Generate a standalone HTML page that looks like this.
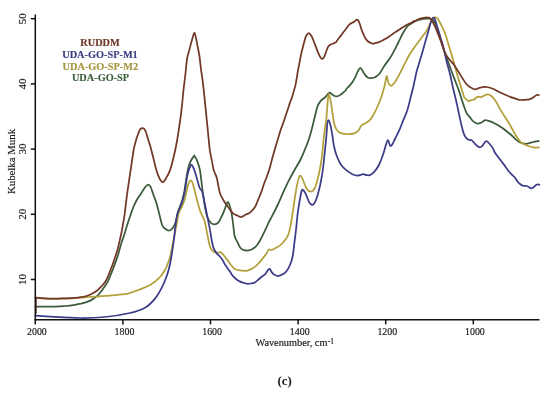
<!DOCTYPE html><html><head><meta charset="utf-8"><style>
html,body{margin:0;padding:0;background:#fff;}
body{width:550px;height:393px;overflow:hidden;position:relative;}
svg{position:absolute;left:0;top:0;transform:translateZ(0);}
text{font-family:"Liberation Serif",serif;}
</style></head><body>
<svg width="550" height="393" viewBox="0 0 550 393">
<path d="M35.5,306.5 C38.8,306.5 50.1,306.7 55.0,306.6 C59.9,306.5 61.7,306.3 65.0,306.0 C68.3,305.7 72.3,305.2 75.0,304.8 C77.7,304.4 79.2,304.1 81.1,303.7 C83.0,303.2 85.0,302.6 86.5,302.1 C88.0,301.6 89.0,301.2 90.3,300.6 C91.6,300.0 92.8,299.2 94.1,298.3 C95.4,297.4 96.6,296.6 97.9,295.3 C99.2,294.0 100.4,292.4 101.7,290.7 C103.0,289.0 104.3,287.1 105.5,285.3 C106.7,283.5 107.7,281.9 108.6,280.0 C109.5,278.1 110.2,276.1 111.0,274.0 C111.8,271.9 112.7,269.7 113.5,267.5 C114.3,265.3 115.2,263.3 116.0,261.0 C116.8,258.7 117.6,256.5 118.5,253.5 C119.4,250.5 120.4,246.2 121.4,243.0 C122.4,239.8 123.4,237.4 124.4,234.2 C125.4,231.0 126.5,227.2 127.5,224.0 C128.5,220.8 129.5,217.9 130.5,215.0 C131.5,212.1 132.5,209.0 133.6,206.5 C134.7,204.0 135.6,202.0 136.9,199.8 C138.2,197.6 139.8,195.5 141.2,193.3 C142.6,191.1 144.3,188.2 145.5,186.8 C146.7,185.4 147.4,184.6 148.2,184.6 C149.0,184.6 149.6,185.0 150.5,186.7 C151.4,188.4 152.4,191.9 153.5,195.0 C154.6,198.1 155.6,200.1 157.0,205.0 C158.4,209.9 160.7,220.6 162.0,224.5 C163.3,228.4 163.8,227.4 164.8,228.4 C165.9,229.4 167.1,230.4 168.3,230.5 C169.5,230.6 170.8,230.0 171.8,229.1 C172.9,228.2 173.8,226.5 174.6,224.9 C175.3,223.3 175.7,221.7 176.3,219.5 C176.9,217.3 177.4,214.2 178.0,212.0 C178.6,209.8 179.3,208.4 180.0,206.5 C180.7,204.6 181.5,202.9 182.2,200.5 C182.9,198.1 183.6,195.1 184.2,192.0 C184.8,188.9 185.3,185.2 185.8,182.0 C186.3,178.8 186.8,175.2 187.3,172.5 C187.8,169.8 188.4,167.5 189.0,165.5 C189.6,163.5 190.2,162.1 191.0,160.5 C191.8,158.9 193.4,156.8 194.0,156.0 C194.6,155.2 193.9,155.2 194.3,155.8 C194.7,156.4 195.9,158.0 196.6,159.5 C197.3,161.0 198.0,163.0 198.6,165.0 C199.2,167.0 199.8,169.0 200.2,171.5 C200.6,174.0 200.9,177.0 201.3,180.0 C201.7,183.0 201.8,185.3 202.4,189.6 C203.0,193.9 204.0,201.3 204.8,206.0 C205.7,210.7 206.5,214.7 207.5,217.5 C208.5,220.3 209.8,221.8 211.0,223.0 C212.2,224.2 213.4,224.5 214.6,224.4 C215.8,224.3 217.0,223.9 218.2,222.6 C219.4,221.3 220.7,218.5 221.7,216.4 C222.7,214.3 223.6,212.2 224.4,210.1 C225.2,208.0 226.1,205.2 226.7,203.9 C227.3,202.6 227.5,201.8 228.0,202.1 C228.5,202.4 229.1,203.9 229.7,205.7 C230.3,207.5 230.9,209.5 231.5,212.8 C232.1,216.1 232.8,221.4 233.3,225.3 C233.8,229.2 233.9,233.3 234.6,236.0 C235.2,238.7 236.2,239.7 237.2,241.7 C238.1,243.7 239.2,246.4 240.3,247.8 C241.4,249.2 242.7,249.7 243.9,250.1 C245.1,250.5 246.4,250.5 247.4,250.5 C248.4,250.5 249.2,250.3 250.1,250.0 C251.0,249.7 251.8,249.4 252.8,248.7 C253.8,248.0 255.1,247.3 256.3,246.0 C257.5,244.7 258.7,242.8 259.9,240.7 C261.1,238.6 262.4,235.7 263.5,233.6 C264.6,231.5 265.3,229.7 266.2,227.9 C267.1,226.1 267.7,224.5 268.6,222.6 C269.5,220.7 270.3,219.5 271.8,216.7 C273.3,213.8 275.5,209.5 277.4,205.5 C279.3,201.5 281.1,197.1 283.0,192.9 C284.9,188.7 287.1,183.9 289.0,180.2 C290.9,176.5 292.3,174.0 294.2,170.6 C296.1,167.2 298.8,162.9 300.3,160.0 C301.8,157.1 302.3,155.8 303.3,153.4 C304.3,151.0 305.5,148.1 306.4,145.8 C307.3,143.5 307.9,142.0 308.7,139.7 C309.5,137.4 310.2,134.9 311.0,132.1 C311.8,129.3 312.6,125.8 313.3,122.9 C314.0,120.0 314.8,117.0 315.4,114.5 C316.0,112.0 316.6,109.5 317.1,107.8 C317.6,106.0 317.9,105.2 318.6,104.0 C319.3,102.8 320.2,101.3 321.1,100.3 C322.0,99.3 323.2,98.9 324.2,98.0 C325.2,97.1 326.3,95.8 327.2,94.9 C328.1,94.0 328.7,92.7 329.5,92.6 C330.3,92.5 331.0,93.7 331.8,94.2 C332.6,94.7 333.2,95.3 334.1,95.7 C335.0,96.1 336.1,96.5 337.1,96.4 C338.1,96.3 339.2,95.6 340.2,95.0 C341.1,94.4 341.9,93.8 342.8,93.0 C343.7,92.2 344.9,91.2 345.5,90.5 C346.1,89.8 345.8,89.7 346.4,88.9 C347.0,88.1 348.4,87.0 349.4,85.9 C350.4,84.8 351.5,83.6 352.5,82.1 C353.5,80.6 354.6,78.5 355.5,76.7 C356.4,74.9 357.0,72.9 357.8,71.4 C358.6,70.0 359.3,68.1 360.1,68.0 C360.9,67.9 361.6,69.5 362.4,70.6 C363.2,71.7 363.8,73.2 364.7,74.4 C365.6,75.6 366.7,76.9 367.7,77.5 C368.7,78.1 369.8,78.2 370.8,78.2 C371.8,78.2 372.9,78.2 373.9,77.8 C374.9,77.4 375.9,76.8 376.9,76.0 C377.9,75.2 378.7,74.7 380.0,72.9 C381.3,71.1 383.1,67.7 384.6,65.4 C386.1,63.1 387.7,61.6 389.2,59.3 C390.7,57.0 392.2,54.4 393.7,51.6 C395.2,48.8 396.8,45.5 398.3,42.5 C399.8,39.5 401.5,35.8 402.9,33.3 C404.3,30.7 405.4,28.8 406.7,27.2 C408.0,25.6 409.2,24.9 410.5,24.0 C411.8,23.1 413.1,22.4 414.4,21.7 C415.7,21.0 416.8,20.2 418.2,19.8 C419.6,19.4 421.3,19.2 422.9,19.0 C424.4,18.8 426.0,18.7 427.5,18.7 C429.0,18.7 430.7,18.4 432.0,19.2 C433.3,20.0 434.4,21.4 435.5,23.7 C436.6,26.0 437.8,29.5 438.9,32.9 C440.0,36.3 441.1,40.5 442.3,44.3 C443.5,48.1 444.7,52.4 445.8,55.8 C446.9,59.2 448.1,61.9 449.2,64.9 C450.3,68.0 451.5,71.0 452.6,74.1 C453.8,77.1 455.0,80.2 456.1,83.2 C457.2,86.2 458.3,88.8 459.5,92.4 C460.7,96.0 462.2,101.2 463.4,104.6 C464.6,108.0 465.4,110.7 466.5,112.8 C467.6,114.9 468.8,115.9 470.0,117.4 C471.2,118.9 472.5,120.9 473.8,121.9 C475.1,122.9 476.3,123.5 477.6,123.6 C478.9,123.7 480.3,123.0 481.5,122.5 C482.7,122.0 483.6,120.6 484.6,120.3 C485.7,120.0 486.6,120.3 487.8,120.6 C489.0,120.9 490.3,121.4 491.6,121.9 C492.9,122.4 494.1,123.1 495.4,123.8 C496.7,124.5 498.0,125.1 499.3,125.9 C500.6,126.7 501.8,127.6 503.1,128.5 C504.4,129.4 505.6,130.5 506.9,131.5 C508.2,132.5 509.2,133.2 510.7,134.5 C512.2,135.8 514.3,138.1 515.7,139.3 C517.1,140.6 518.0,141.3 519.2,142.0 C520.4,142.7 521.6,143.1 522.8,143.4 C524.0,143.7 525.2,143.9 526.4,143.8 C527.6,143.7 528.7,143.2 529.9,142.9 C531.1,142.6 532.3,142.3 533.5,142.0 C534.7,141.7 536.2,141.2 537.1,141.1 C538.0,140.9 538.5,141.1 538.8,141.1" fill="none" stroke="#3b5c3a" stroke-width="1.75" stroke-linejoin="round" stroke-linecap="round"/>
<path d="M35.5,298.0 C37.1,298.1 41.8,298.5 45.0,298.6 C48.2,298.8 51.7,298.9 55.0,298.9 C58.3,298.9 61.7,298.7 65.0,298.6 C68.3,298.5 72.3,298.4 75.0,298.2 C77.7,298.0 79.3,297.8 81.1,297.6 C82.9,297.4 84.7,297.3 86.0,297.2 C87.3,297.1 87.7,297.1 89.0,297.0 C90.3,296.9 92.0,296.7 94.1,296.6 C96.2,296.5 99.2,296.4 101.7,296.2 C104.2,296.0 107.2,295.8 109.4,295.6 C111.6,295.4 112.9,295.4 115.0,295.2 C117.1,295.0 119.5,294.8 122.0,294.4 C124.5,294.0 125.3,294.6 130.0,293.0 C134.7,291.4 145.0,287.7 150.0,285.0 C155.0,282.3 157.5,279.5 160.0,277.0 C162.5,274.5 163.7,272.3 165.0,270.0 C166.3,267.7 167.1,265.5 168.0,263.0 C168.9,260.5 169.1,261.3 170.5,255.0 C171.9,248.7 175.1,232.0 176.5,225.0 C177.9,218.0 178.0,216.0 178.8,213.0 C179.7,210.0 180.7,209.3 181.6,207.2 C182.5,205.1 183.6,202.8 184.4,200.2 C185.2,197.6 185.9,194.1 186.5,191.5 C187.1,188.9 187.5,186.4 188.2,184.6 C188.8,182.8 189.7,180.8 190.4,180.5 C191.1,180.2 191.7,181.0 192.4,182.5 C193.1,184.0 193.7,187.0 194.4,189.6 C195.1,192.2 195.8,195.3 196.5,198.0 C197.2,200.7 197.9,203.2 198.5,205.5 C199.1,207.8 199.6,209.5 200.3,211.5 C201.1,213.5 202.2,215.6 203.0,217.3 C203.8,219.0 204.2,219.5 204.8,221.7 C205.4,223.9 206.0,227.6 206.6,230.6 C207.2,233.6 207.8,236.8 208.4,239.5 C209.0,242.2 209.4,244.8 210.1,246.7 C210.8,248.6 211.8,250.1 212.8,251.1 C213.9,252.1 215.2,252.7 216.4,252.9 C217.6,253.1 218.9,252.0 219.9,252.2 C220.9,252.3 221.7,253.0 222.6,253.8 C223.5,254.7 224.3,256.0 225.3,257.3 C226.3,258.6 227.9,260.6 228.8,261.8 C229.7,263.0 229.6,263.3 230.6,264.5 C231.6,265.7 233.1,268.2 235.0,269.2 C236.9,270.2 240.0,270.4 242.1,270.6 C244.2,270.8 245.6,271.0 247.4,270.6 C249.2,270.2 251.0,269.4 252.8,268.3 C254.6,267.2 256.5,265.5 258.1,263.9 C259.7,262.3 261.3,260.1 262.6,258.5 C263.9,256.9 265.1,255.5 266.1,254.0 C267.1,252.5 267.9,250.3 268.8,249.6 C269.7,248.9 270.3,250.3 271.5,250.0 C272.7,249.7 274.4,248.8 276.0,247.8 C277.6,246.9 279.7,245.8 281.3,244.3 C282.9,242.8 284.8,240.3 285.8,239.0 C286.8,237.7 286.9,237.6 287.4,236.5 C287.9,235.4 288.5,234.2 289.0,232.5 C289.5,230.8 289.9,229.4 290.5,226.2 C291.1,223.0 291.9,217.9 292.6,213.2 C293.3,208.5 294.1,202.8 294.8,198.1 C295.5,193.4 296.3,188.6 297.0,185.1 C297.7,181.6 298.5,178.6 299.1,177.0 C299.7,175.4 300.0,175.5 300.6,175.8 C301.2,176.1 301.6,176.8 302.6,179.0 C303.6,181.2 305.3,186.6 306.7,188.7 C308.1,190.8 309.6,191.7 311.0,191.5 C312.4,191.3 313.7,190.6 315.1,187.3 C316.5,184.1 318.1,177.3 319.3,172.0 C320.5,166.7 321.4,160.5 322.1,155.2 C322.8,149.9 323.0,144.5 323.5,140.0 C324.0,135.5 324.5,131.5 325.0,128.0 C325.5,124.5 325.8,124.0 326.3,119.2 C326.8,114.4 327.5,103.4 327.9,99.3 C328.3,95.2 328.4,93.7 328.9,94.4 C329.4,95.1 330.5,100.0 331.1,103.3 C331.7,106.6 332.1,110.7 332.6,114.0 C333.1,117.3 333.5,120.6 334.1,123.2 C334.7,125.8 335.5,127.9 336.4,129.4 C337.3,130.9 338.4,131.7 339.5,132.4 C340.6,133.1 341.6,133.3 343.0,133.6 C344.4,133.9 347.0,134.0 347.8,134.1 C348.6,134.2 346.7,134.2 347.8,134.1 C348.9,134.0 352.6,134.0 354.4,133.4 C356.2,132.8 357.3,131.8 358.5,130.4 C359.7,129.1 360.4,126.5 361.6,125.3 C362.8,124.1 364.2,124.0 365.6,123.2 C367.0,122.4 368.3,121.7 369.7,120.2 C371.1,118.7 372.6,116.1 373.8,114.1 C375.0,112.1 375.8,110.5 376.9,108.0 C378.0,105.5 379.4,102.6 380.7,99.0 C382.0,95.4 383.5,90.1 384.5,86.3 C385.5,82.5 386.0,76.8 386.6,76.2 C387.2,75.6 387.6,80.9 388.3,82.5 C389.0,84.1 389.8,85.8 390.9,85.8 C392.0,85.8 393.2,84.5 394.7,82.5 C396.2,80.5 398.1,76.8 399.8,73.6 C401.5,70.4 403.3,66.6 404.9,63.4 C406.5,60.2 407.9,57.3 409.6,54.5 C411.3,51.7 413.5,48.6 415.0,46.4 C416.5,44.2 417.5,43.0 418.8,41.3 C420.1,39.6 421.3,37.9 422.6,36.2 C423.9,34.5 425.4,32.8 426.5,31.1 C427.6,29.4 428.3,27.6 429.0,26.0 C429.7,24.4 430.3,22.8 430.9,21.5 C431.5,20.2 432.1,19.1 432.8,18.4 C433.6,17.7 434.5,17.0 435.4,17.1 C436.2,17.2 437.1,17.9 437.9,19.0 C438.7,20.1 439.5,21.9 440.4,23.5 C441.2,25.1 442.1,26.5 443.0,28.5 C443.9,30.5 444.9,32.9 445.8,35.5 C446.7,38.1 447.6,41.5 448.4,44.2 C449.2,46.9 449.9,49.3 450.7,51.8 C451.5,54.3 452.3,57.1 453.0,59.4 C453.7,61.7 454.1,63.2 454.7,65.5 C455.3,67.8 456.1,70.7 456.8,73.2 C457.5,75.8 458.3,78.3 459.1,80.8 C459.9,83.3 460.6,86.0 461.4,88.4 C462.2,90.9 463.2,94.0 463.7,95.5 C464.2,97.0 463.6,96.5 464.4,97.5 C465.2,98.5 467.6,100.7 468.5,101.2 C469.4,101.7 469.1,100.6 470.0,100.3 C470.9,100.0 472.5,100.2 473.8,99.6 C475.1,99.0 476.3,97.2 477.6,96.8 C478.9,96.4 480.3,97.2 481.5,97.0 C482.7,96.8 483.6,95.8 484.6,95.4 C485.7,95.0 486.7,94.3 487.8,94.4 C488.9,94.5 489.9,95.0 491.0,95.8 C492.1,96.6 493.2,97.8 494.2,99.0 C495.1,100.2 495.8,101.3 496.7,102.8 C497.6,104.3 498.2,106.0 499.3,107.9 C500.4,109.8 501.8,112.0 503.1,114.0 C504.4,116.0 505.6,117.8 506.9,119.8 C508.2,121.8 509.5,124.2 510.7,126.2 C511.9,128.2 512.9,130.4 513.9,132.1 C514.9,133.8 515.6,135.2 516.5,136.5 C517.4,137.8 518.2,139.0 519.2,140.2 C520.2,141.4 521.6,142.8 522.8,143.6 C524.0,144.4 525.2,144.7 526.4,145.2 C527.6,145.7 528.7,146.2 529.9,146.5 C531.1,146.8 532.5,147.1 533.5,147.3 C534.5,147.5 535.3,147.7 536.2,147.7 C537.1,147.7 538.4,147.4 538.8,147.3" fill="none" stroke="#b3a03a" stroke-width="1.75" stroke-linejoin="round" stroke-linecap="round"/>
<path d="M35.5,315.6 C37.9,315.8 42.6,316.2 50.0,316.6 C57.4,317.0 70.8,317.9 80.0,318.0 C89.2,318.1 96.7,317.8 105.0,317.0 C113.3,316.2 123.3,314.5 130.0,313.0 C136.7,311.5 140.8,310.2 145.0,307.8 C149.2,305.4 152.2,302.0 155.0,298.6 C157.8,295.2 160.2,290.6 162.0,287.2 C163.8,283.8 164.8,281.1 166.0,278.0 C167.2,274.9 168.2,271.7 169.0,268.5 C169.8,265.3 170.2,263.8 171.0,259.0 C171.8,254.2 173.2,245.3 173.9,240.0 C174.6,234.7 174.8,230.8 175.3,227.0 C175.8,223.2 176.2,219.8 176.7,217.2 C177.2,214.6 177.5,213.3 178.1,211.6 C178.7,209.9 179.5,208.7 180.2,207.0 C180.9,205.3 181.6,203.9 182.3,201.6 C183.0,199.3 183.8,196.2 184.4,193.4 C185.0,190.6 185.3,187.9 185.8,185.0 C186.3,182.1 186.6,178.7 187.2,176.0 C187.8,173.3 188.4,171.0 189.1,169.1 C189.8,167.2 190.5,164.9 191.2,164.6 C191.9,164.3 192.6,166.1 193.3,167.5 C194.0,168.9 194.6,170.9 195.3,173.0 C196.0,175.1 196.6,177.5 197.3,180.0 C198.0,182.5 198.8,186.0 199.7,188.0 C200.5,190.0 201.6,189.5 202.4,192.2 C203.2,194.8 204.1,200.5 204.8,203.9 C205.5,207.3 206.0,209.8 206.6,212.8 C207.2,215.8 207.8,218.7 208.4,221.7 C209.0,224.7 209.5,227.3 210.1,230.6 C210.7,233.9 211.3,238.3 211.9,241.3 C212.5,244.3 212.9,246.5 213.7,248.4 C214.4,250.3 215.4,251.6 216.4,252.9 C217.4,254.2 218.9,255.3 219.9,256.5 C220.9,257.7 221.7,258.6 222.6,260.0 C223.5,261.4 224.1,263.2 225.3,265.0 C226.5,266.8 228.3,269.1 229.6,271.0 C230.9,272.9 231.7,274.7 233.2,276.3 C234.7,277.9 236.7,279.7 238.5,280.8 C240.3,281.9 242.4,282.4 243.9,282.9 C245.4,283.4 246.2,283.7 247.4,283.8 C248.6,283.9 249.8,283.7 251.0,283.5 C252.2,283.3 253.4,283.2 254.6,282.6 C255.8,282.0 256.9,280.9 258.1,279.9 C259.3,278.9 260.5,277.6 261.7,276.7 C262.9,275.8 264.3,275.3 265.3,274.2 C266.3,273.1 267.2,271.0 267.9,270.1 C268.6,269.2 269.1,268.6 269.7,268.9 C270.3,269.2 270.8,270.9 271.5,271.9 C272.2,272.8 273.2,273.9 274.2,274.6 C275.2,275.3 276.5,275.9 277.7,276.0 C278.9,276.1 280.1,275.4 281.3,274.9 C282.5,274.4 283.7,273.9 284.9,272.8 C286.1,271.7 287.4,270.1 288.4,268.3 C289.4,266.5 290.4,264.3 291.1,262.1 C291.9,259.9 292.3,258.4 292.9,255.0 C293.5,251.7 294.0,246.2 294.5,242.0 C295.0,237.8 295.5,234.5 296.0,230.0 C296.5,225.5 296.9,220.0 297.5,215.0 C298.1,210.0 299.1,204.2 299.8,200.0 C300.6,195.8 301.1,191.3 302.0,190.1 C302.9,188.9 304.1,190.9 305.3,193.0 C306.6,195.1 308.1,200.8 309.5,202.7 C310.9,204.5 312.3,205.5 313.7,204.1 C315.1,202.7 316.5,199.2 317.9,194.3 C319.3,189.4 321.0,181.4 322.1,174.8 C323.2,168.2 323.8,161.3 324.5,155.0 C325.2,148.7 325.8,142.2 326.3,137.0 C326.8,131.8 326.9,126.8 327.3,124.0 C327.7,121.2 328.1,120.0 328.6,120.3 C329.2,120.6 330.0,123.3 330.6,125.8 C331.2,128.2 331.7,131.5 332.3,135.0 C332.9,138.5 333.3,143.1 334.1,146.7 C334.9,150.3 335.9,153.8 337.1,156.8 C338.3,159.9 339.7,162.8 341.2,165.0 C342.7,167.2 344.4,168.6 346.3,170.1 C348.2,171.6 350.5,173.3 352.4,174.2 C354.3,175.1 356.1,175.5 357.5,175.6 C358.9,175.7 359.5,175.0 360.5,174.8 C361.5,174.6 362.6,174.1 363.6,174.2 C364.6,174.3 365.5,175.1 366.7,175.2 C367.9,175.3 369.3,175.5 370.7,174.8 C372.1,174.1 373.4,172.7 374.8,171.1 C376.2,169.5 377.5,167.7 378.9,165.0 C380.3,162.3 381.8,158.2 383.0,154.8 C384.2,151.4 385.2,147.1 386.0,144.6 C386.8,142.1 387.3,139.9 388.0,140.1 C388.7,140.3 389.3,144.8 390.0,145.6 C390.7,146.3 391.2,145.8 392.1,144.6 C393.0,143.4 394.0,140.9 395.2,138.5 C396.4,136.1 397.8,133.5 399.2,130.4 C400.6,127.4 401.9,123.6 403.3,120.2 C404.7,116.8 406.2,113.7 407.4,110.0 C408.6,106.3 409.5,102.0 410.5,98.0 C411.5,94.0 412.5,90.3 413.5,86.0 C414.5,81.7 415.5,76.0 416.5,72.0 C417.5,68.0 418.5,65.4 419.5,62.0 C420.5,58.6 421.6,55.1 422.6,51.4 C423.7,47.7 424.8,43.4 425.8,40.0 C426.8,36.6 427.5,34.1 428.4,31.1 C429.2,28.1 430.1,24.4 430.9,22.2 C431.6,20.0 432.3,18.3 432.9,17.8 C433.5,17.3 434.1,17.9 434.7,19.0 C435.3,20.1 436.0,22.7 436.6,24.7 C437.2,26.7 437.9,29.0 438.5,31.1 C439.1,33.2 439.8,35.3 440.4,37.4 C441.0,39.5 441.7,41.4 442.4,43.8 C443.1,46.2 443.8,48.9 444.5,52.0 C445.2,55.1 446.0,58.8 446.9,62.5 C447.8,66.2 449.0,69.8 450.0,74.0 C451.0,78.2 452.1,84.0 453.0,88.0 C453.9,92.0 454.6,94.2 455.5,98.0 C456.4,101.8 457.3,106.2 458.3,110.7 C459.3,115.2 460.4,120.9 461.4,125.0 C462.4,129.1 463.4,132.8 464.4,135.2 C465.4,137.6 466.3,138.3 467.5,139.2 C468.7,140.0 470.4,139.6 471.6,140.3 C472.8,141.0 473.4,142.2 474.6,143.3 C475.8,144.4 477.5,146.5 478.7,147.0 C479.9,147.5 480.8,147.2 481.8,146.4 C482.8,145.6 484.0,143.2 484.8,142.3 C485.6,141.5 486.0,141.0 486.8,141.3 C487.6,141.6 488.9,143.1 489.9,144.3 C490.9,145.5 492.1,147.0 493.0,148.4 C493.9,149.8 493.9,150.9 495.0,152.7 C496.1,154.5 498.2,157.1 499.9,159.3 C501.5,161.5 503.2,163.7 504.9,165.9 C506.5,168.1 508.2,170.6 509.8,172.5 C511.4,174.4 513.5,176.1 514.8,177.5 C516.0,178.9 516.5,180.1 517.3,181.1 C518.1,182.1 518.7,182.9 519.6,183.7 C520.5,184.4 521.5,185.2 522.6,185.6 C523.8,186.0 525.5,185.8 526.5,186.0 C527.5,186.2 528.0,186.6 528.7,187.0 C529.5,187.4 530.2,188.2 531.0,188.3 C531.8,188.4 532.5,188.1 533.3,187.6 C534.1,187.1 535.0,185.9 535.6,185.4 C536.2,184.9 536.5,184.6 537.1,184.5 C537.7,184.4 539.0,184.7 539.4,184.7" fill="none" stroke="#3d3c88" stroke-width="1.75" stroke-linejoin="round" stroke-linecap="round"/>
<path d="M35.5,297.7 C37.1,297.8 41.8,298.1 45.0,298.3 C48.2,298.5 51.7,298.6 55.0,298.6 C58.3,298.6 61.7,298.4 65.0,298.3 C68.3,298.2 72.3,298.1 75.0,297.9 C77.7,297.7 79.2,297.5 81.1,297.2 C83.0,296.9 85.0,296.4 86.5,296.0 C88.0,295.6 89.0,295.1 90.3,294.5 C91.6,293.9 92.8,293.4 94.1,292.6 C95.4,291.8 96.6,291.0 97.9,289.9 C99.2,288.8 100.4,287.5 101.7,286.1 C103.0,284.7 104.5,283.1 105.5,281.5 C106.5,279.9 107.2,278.2 108.0,276.3 C108.8,274.4 109.7,272.1 110.5,270.0 C111.3,267.9 112.2,265.8 113.0,263.5 C113.8,261.2 114.7,258.3 115.5,256.0 C116.3,253.7 116.9,252.0 117.6,249.5 C118.3,247.0 118.9,243.8 119.6,241.0 C120.2,238.2 120.9,235.5 121.5,232.5 C122.1,229.5 122.7,226.0 123.2,223.0 C123.7,220.0 123.9,219.4 124.6,214.5 C125.3,209.6 126.2,200.5 127.2,193.3 C128.2,186.2 129.3,178.8 130.4,171.6 C131.5,164.4 132.9,154.3 133.6,150.0 C134.3,145.7 134.1,147.6 134.5,146.0 C134.9,144.4 135.5,141.9 136.0,140.2 C136.5,138.4 137.0,137.1 137.6,135.5 C138.2,133.9 138.8,131.9 139.3,130.8 C139.8,129.7 140.3,129.1 140.8,128.7 C141.3,128.3 141.9,128.2 142.4,128.2 C142.9,128.2 143.5,128.1 144.0,128.6 C144.5,129.1 145.1,130.0 145.6,131.2 C146.1,132.4 146.5,134.0 147.0,135.6 C147.5,137.2 147.9,138.8 148.5,140.6 C149.1,142.4 149.7,144.0 150.4,146.5 C151.1,149.0 151.8,152.0 152.8,155.8 C153.8,159.6 155.1,165.7 156.2,169.5 C157.3,173.3 158.5,176.5 159.6,178.6 C160.7,180.7 161.6,182.1 162.6,182.1 C163.6,182.1 164.6,180.5 165.8,178.6 C167.0,176.7 168.6,174.0 169.9,170.6 C171.2,167.2 172.2,162.8 173.4,158.0 C174.6,153.2 175.8,147.5 176.8,142.0 C177.8,136.5 178.7,130.3 179.5,125.0 C180.3,119.7 180.8,115.8 181.5,110.0 C182.2,104.2 182.9,95.8 183.5,90.0 C184.1,84.2 184.7,80.0 185.3,75.0 C185.9,70.0 186.4,63.7 186.9,60.0 C187.4,56.3 187.9,55.2 188.5,53.0 C189.1,50.8 189.5,48.9 190.2,46.5 C190.8,44.1 191.7,40.8 192.4,38.5 C193.1,36.2 193.7,33.4 194.2,33.0 C194.7,32.6 195.0,34.0 195.6,36.4 C196.2,38.8 197.2,43.9 197.8,47.3 C198.5,50.6 198.9,52.5 199.5,56.5 C200.1,60.5 200.6,66.8 201.2,71.0 C201.8,75.2 202.1,75.6 202.8,82.0 C203.6,88.4 204.8,100.6 205.7,109.3 C206.6,118.0 207.5,127.5 208.2,134.3 C208.9,141.1 209.2,145.7 209.8,150.0 C210.4,154.3 211.2,157.1 211.8,160.4 C212.5,163.7 212.9,167.1 213.7,170.0 C214.5,172.9 215.8,174.2 216.8,178.0 C217.8,181.8 218.8,189.3 219.9,193.0 C221.0,196.7 222.4,198.4 223.5,200.3 C224.6,202.2 225.3,203.2 226.2,204.5 C227.1,205.8 228.1,207.0 228.8,208.0 C229.5,209.0 229.8,209.6 230.6,210.5 C231.3,211.4 232.5,213.0 233.3,213.7 C234.1,214.4 234.8,214.5 235.5,214.8 C236.2,215.2 236.9,215.4 237.8,215.8 C238.8,216.2 239.9,217.2 241.2,217.0 C242.5,216.8 244.3,215.4 245.8,214.6 C247.3,213.8 248.8,213.6 250.3,212.3 C251.8,211.0 253.9,208.6 255.0,207.0 C256.1,205.4 256.3,204.2 257.0,202.5 C257.7,200.8 258.6,198.8 259.4,196.8 C260.2,194.8 261.0,192.8 261.8,190.6 C262.6,188.3 263.4,185.5 264.2,183.3 C265.0,181.1 265.8,179.5 266.6,177.2 C267.5,174.9 268.4,172.5 269.3,169.6 C270.2,166.7 271.0,163.1 271.9,159.8 C272.8,156.5 273.6,153.6 274.6,150.0 C275.7,146.4 277.2,141.5 278.2,138.1 C279.2,134.7 279.8,132.4 280.7,129.8 C281.6,127.3 282.4,125.2 283.3,122.8 C284.2,120.4 285.1,117.4 285.8,115.2 C286.6,113.0 287.1,111.5 287.8,109.5 C288.5,107.5 289.2,105.0 289.9,102.9 C290.6,100.8 291.5,99.0 292.2,96.8 C292.9,94.6 293.5,91.9 294.1,89.9 C294.7,87.9 295.2,86.4 295.6,84.6 C296.0,82.8 296.2,81.1 296.6,79.0 C297.0,76.9 297.2,74.8 297.7,72.0 C298.2,69.2 299.0,65.4 299.6,62.2 C300.2,59.0 300.8,55.5 301.4,53.0 C301.9,50.5 302.4,49.1 302.9,47.0 C303.4,44.9 304.0,42.4 304.6,40.4 C305.2,38.4 305.8,36.5 306.5,35.3 C307.2,34.1 308.1,33.1 308.8,33.1 C309.6,33.1 310.3,34.3 311.0,35.3 C311.7,36.3 312.2,37.4 312.9,39.1 C313.6,40.8 314.5,43.2 315.4,45.4 C316.2,47.6 317.1,50.4 318.0,52.4 C318.9,54.4 319.8,56.4 320.5,57.5 C321.2,58.6 321.8,59.0 322.4,58.8 C323.0,58.6 323.8,57.6 324.4,56.3 C325.0,55.0 325.7,52.8 326.3,51.2 C326.9,49.6 327.6,47.8 328.2,46.7 C328.8,45.6 329.2,45.3 330.1,44.8 C331.0,44.3 332.4,43.9 333.3,43.5 C334.2,43.1 335.0,43.0 335.8,42.3 C336.6,41.6 337.1,40.4 338.0,39.3 C338.9,38.1 340.1,36.7 341.1,35.4 C342.1,34.1 343.1,32.6 344.1,31.3 C345.1,30.0 346.3,28.5 347.2,27.3 C348.1,26.1 348.8,25.0 349.7,24.2 C350.6,23.4 351.4,23.2 352.3,22.7 C353.2,22.2 354.1,21.7 354.8,21.2 C355.6,20.7 356.2,19.8 356.8,19.7 C357.4,19.6 357.9,20.1 358.4,20.8 C358.9,21.6 359.4,22.8 359.9,24.2 C360.4,25.6 360.8,27.6 361.4,29.3 C362.0,31.0 362.8,32.9 363.5,34.4 C364.2,35.9 364.8,37.4 365.5,38.5 C366.2,39.6 366.7,40.3 367.5,41.0 C368.3,41.7 369.2,42.2 370.1,42.6 C371.0,43.0 371.8,43.5 372.6,43.6 C373.5,43.7 374.3,43.3 375.2,43.1 C376.1,42.9 377.3,42.7 378.2,42.4 C379.1,42.1 379.7,41.7 380.8,41.2 C381.9,40.7 383.2,40.1 384.6,39.3 C386.0,38.5 387.7,37.4 389.2,36.4 C390.7,35.4 392.2,34.3 393.7,33.3 C395.2,32.3 396.8,31.3 398.3,30.3 C399.8,29.3 401.4,28.2 402.9,27.2 C404.4,26.2 406.0,25.2 407.5,24.4 C409.0,23.6 411.1,23.0 412.1,22.4 C413.1,21.8 413.2,21.2 413.7,21.0 C414.2,20.8 414.1,21.6 415.0,21.3 C415.9,21.0 417.5,19.5 418.8,19.0 C420.1,18.5 421.2,18.4 422.6,18.1 C424.0,17.8 425.8,17.3 427.1,17.4 C428.4,17.4 429.4,17.6 430.3,18.4 C431.2,19.2 432.0,20.7 432.8,22.2 C433.6,23.7 434.5,25.4 435.4,27.3 C436.2,29.2 437.1,31.6 437.9,33.6 C438.7,35.6 439.5,37.7 440.2,39.5 C440.9,41.3 441.2,42.5 441.8,44.2 C442.4,46.0 443.0,48.0 443.8,50.0 C444.6,52.0 445.8,54.4 446.9,56.2 C448.0,58.0 449.4,59.5 450.7,61.0 C452.0,62.5 453.2,63.7 454.5,65.5 C455.8,67.3 457.0,69.6 458.3,71.6 C459.6,73.6 460.8,75.7 462.1,77.7 C463.4,79.7 464.7,82.0 466.0,83.5 C467.3,85.0 468.4,85.9 469.9,86.9 C471.4,87.9 473.4,89.2 475.1,89.3 C476.8,89.4 478.3,88.0 480.2,87.6 C482.1,87.2 484.4,86.8 486.5,87.0 C488.6,87.2 490.8,88.0 492.9,88.8 C495.0,89.6 497.2,91.0 499.3,92.0 C501.4,93.0 503.3,94.0 505.2,94.8 C507.1,95.6 509.1,96.5 510.7,97.1 C512.3,97.7 513.7,98.0 514.8,98.4 C515.9,98.8 516.5,99.0 517.5,99.3 C518.5,99.6 519.8,99.9 521.0,100.0 C522.2,100.1 523.4,99.9 524.6,99.8 C525.8,99.7 527.0,99.8 528.2,99.6 C529.4,99.4 530.7,98.9 531.7,98.4 C532.7,97.9 533.5,97.2 534.4,96.6 C535.3,96.0 536.4,95.0 537.1,94.8 C537.8,94.6 538.5,95.1 538.8,95.2" fill="none" stroke="#723826" stroke-width="1.75" stroke-linejoin="round" stroke-linecap="round"/>
<line x1="36.4" y1="298" x2="36.4" y2="313.5" stroke="#723826" stroke-width="1.1" opacity="0.8"/>
<g stroke="#111" stroke-width="1.5" fill="none">
<line x1="35.3" y1="14.6" x2="35.3" y2="320.3"/>
<line x1="34.6" y1="319.8" x2="539.5" y2="319.8"/>
<line x1="30.8" y1="279.5" x2="35.3" y2="279.5"/>
<line x1="30.8" y1="214.3" x2="35.3" y2="214.3"/>
<line x1="30.8" y1="149.1" x2="35.3" y2="149.1"/>
<line x1="30.8" y1="83.9" x2="35.3" y2="83.9"/>
<line x1="30.8" y1="18.7" x2="35.3" y2="18.7"/>
<line x1="35.3" y1="319.8" x2="35.3" y2="324.4"/>
<line x1="122.9" y1="319.8" x2="122.9" y2="324.4"/>
<line x1="210.5" y1="319.8" x2="210.5" y2="324.4"/>
<line x1="298.1" y1="319.8" x2="298.1" y2="324.4"/>
<line x1="385.7" y1="319.8" x2="385.7" y2="324.4"/>
<line x1="473.3" y1="319.8" x2="473.3" y2="324.4"/>
</g>
<g font-size="11" fill="#1a1a1a" stroke="#1a1a1a" stroke-width="0.18" text-anchor="middle">
<text transform="translate(36.9,334.6) scale(0.9,1)">2000</text>
<text transform="translate(124.5,334.6) scale(0.9,1)">1800</text>
<text transform="translate(212.1,334.6) scale(0.9,1)">1600</text>
<text transform="translate(299.7,334.6) scale(0.9,1)">1400</text>
<text transform="translate(387.3,334.6) scale(0.9,1)">1200</text>
<text transform="translate(474.9,334.6) scale(0.9,1)">1000</text>
<text transform="translate(26.3,279.5) rotate(-90)" x="0" y="0">10</text>
<text transform="translate(26.3,214.3) rotate(-90)" x="0" y="0">20</text>
<text transform="translate(26.3,149.1) rotate(-90)" x="0" y="0">30</text>
<text transform="translate(26.3,83.9) rotate(-90)" x="0" y="0">40</text>
<text transform="translate(26.3,18.7) rotate(-90)" x="0" y="0">50</text>
</g>
<text transform="translate(14.9,161.5) rotate(-90)" font-size="10.8" fill="#1a1a1a" stroke="#1a1a1a" stroke-width="0.18" text-anchor="middle">Kubelka Munk</text>
<text x="255.5" y="345.8" font-size="10.3" fill="#1a1a1a" stroke="#1a1a1a" stroke-width="0.18">Wavenumber, cm<tspan font-size="7.4" dx="0.3" dy="-2.2">-1</tspan></text>
<text x="284.6" y="385.1" font-size="12.9" font-weight="bold" fill="#1a1a1a" text-anchor="middle">(c)</text>
<g font-size="10.3" font-weight="bold" text-anchor="middle">
<text x="100" y="45.6" fill="#6b3526" stroke="#6b3526" stroke-width="0.15">RUDDM</text>
<text x="100" y="57.5" fill="#3d3d82" stroke="#3d3d82" stroke-width="0.15">UDA-GO-SP-M1</text>
<text x="100.3" y="69.5" fill="#a59540" stroke="#a59540" stroke-width="0.15">UDA-GO-SP-M2</text>
<text x="100.5" y="81.3" fill="#3c5f3c" stroke="#3c5f3c" stroke-width="0.15">UDA-GO-SP</text>
</g>
</svg></body></html>
